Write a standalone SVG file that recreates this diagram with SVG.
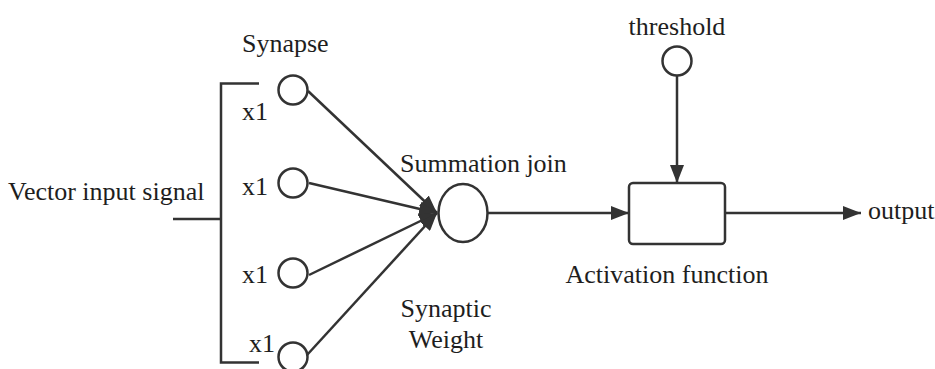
<svg xmlns="http://www.w3.org/2000/svg" width="935" height="369" viewBox="0 0 935 369">
<style>
text{font-family:"Liberation Serif","Times New Roman",serif;font-size:26px;fill:#1e1e1e}
.ln{stroke:#333;stroke-width:2.5;fill:none}
.nd{stroke:#333;stroke-width:2.5;fill:#fff}
</style>
<defs>
<marker id="ah" viewBox="0 0 18 14" refX="18" refY="7" markerWidth="18" markerHeight="14" markerUnits="userSpaceOnUse" orient="auto">
<path d="M0,0 L18,7 L0,14 Z" fill="#333"/>
</marker>
</defs>
<rect width="935" height="369" fill="#fff"/>
<g id="connectors">
<path class="ln" d="M173,219 H221 M259,83.5 H221 V362.5 H259"/>
<line class="ln" x1="308" y1="91" x2="437" y2="213" marker-end="url(#ah)"/>
<line class="ln" x1="309" y1="183" x2="437" y2="213" marker-end="url(#ah)"/>
<line class="ln" x1="309" y1="275" x2="437" y2="213" marker-end="url(#ah)"/>
<line class="ln" x1="307" y1="355" x2="437" y2="213" marker-end="url(#ah)"/>
<line class="ln" x1="488" y1="213" x2="629" y2="213" marker-end="url(#ah)"/>
<line class="ln" x1="677" y1="76" x2="677" y2="183" marker-end="url(#ah)"/>
<line class="ln" x1="725" y1="213" x2="861" y2="213" marker-end="url(#ah)"/>
</g>
<g id="input"><text x="8" y="200">Vector input signal</text></g>
<g id="synapse-label"><text x="242" y="52">Synapse</text></g>
<g id="syn1"><circle class="nd" cx="293" cy="90" r="14.5"/><text x="242" y="120">x1</text></g>
<g id="syn2"><circle class="nd" cx="293" cy="183" r="14.5"/><text x="242" y="195">x1</text></g>
<g id="syn3"><circle class="nd" cx="293" cy="273" r="14.5"/><text x="242" y="283">x1</text></g>
<g id="syn4"><circle class="nd" cx="293" cy="357" r="14.5"/><text x="249" y="352">x1</text></g>
<g id="summation"><ellipse class="nd" cx="463" cy="213" rx="24.5" ry="29"/><text x="400" y="172">Summation join</text></g>
<g id="weight"><text x="446" y="317" text-anchor="middle">Synaptic</text><text x="446" y="348" text-anchor="middle">Weight</text></g>
<g id="threshold"><circle class="nd" cx="677" cy="61" r="14.5"/><text x="677" y="35" text-anchor="middle">threshold</text></g>
<g id="activation"><rect class="nd" x="629" y="183" width="96" height="61" rx="4"/><text x="667" y="283" text-anchor="middle">Activation function</text></g>
<g id="output"><text x="868" y="219">output</text></g>
</svg>
